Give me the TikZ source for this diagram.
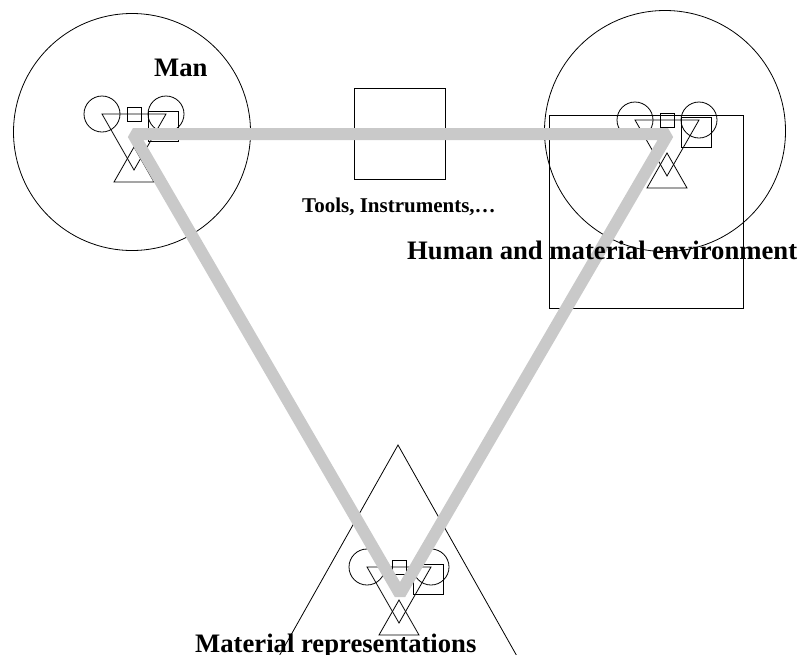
\documentclass[tikz,border=0pt]{standalone}
\usepackage{fontspec}
\setmainfont{Liberation Serif}
\tikzset{
  thinline/.style={draw, line width=0.8pt},
  bandline/.style={draw=gray!42, line width=12pt, line join=bevel},
  bigtext/.style={font=\bfseries\fontsize{26.67}{30}\selectfont, inner sep=0pt, anchor=base west},
  smalltext/.style={font=\bfseries\fontsize{21}{24}\selectfont, inner sep=0pt, anchor=base west}
}
\begin{document}
\begin{tikzpicture}[x=1pt, y=-1pt]
  \useasboundingbox (0,0) rectangle (808,654);
  \begin{scope}
  \clip (0,0) rectangle (808,654);
  \node[thinline, circle, minimum size=237pt, inner sep=0pt] (mancircle) at (132,132) {};
  \node[thinline, circle, minimum size=241pt, inner sep=0pt] (envcircle) at (665,131) {};
  \path[thinline] (549,115) rectangle (743,308);
  \path[thinline] (354,88) rectangle (445,179);
  \path[thinline] (398,445) -- (198,800) -- (598,800) -- cycle;
  \foreach \x/\y in {102/114, 635/120, 367/567}
  {
    \path[thinline] (\x,\y) circle[radius=18] (\x+64,\y) circle[radius=18];
    \path[thinline] (\x+25,\y-7) rectangle (\x+39,\y+7);
    \path[thinline] (\x,\y) -- (\x+64,\y) -- (\x+32,\y+56) -- cycle;
    \path[thinline] (\x+32,\y+33) -- (\x+12,\y+68) -- (\x+52,\y+68) -- cycle;
    \path[thinline] (\x+46,\y-3) rectangle (\x+76,\y+27);
  }
  \coordinate (man) at (133,134);
  \coordinate (env) at (668,134);
  \coordinate (rep) at (400,594);
  \path[bandline] (man) -- (env) -- (rep) -- cycle;
  \node[bigtext] (manlabel) at (154,76) {Man};
  \node[smalltext] (toollabel) at (302,212) {Tools, Instruments,\dots};
  \node[bigtext] (envlabel) at (407,259) {Human and material environment};
  \node[bigtext] (replabel) at (195,652) {Material representations};
  \end{scope}
\end{tikzpicture}
\end{document}
